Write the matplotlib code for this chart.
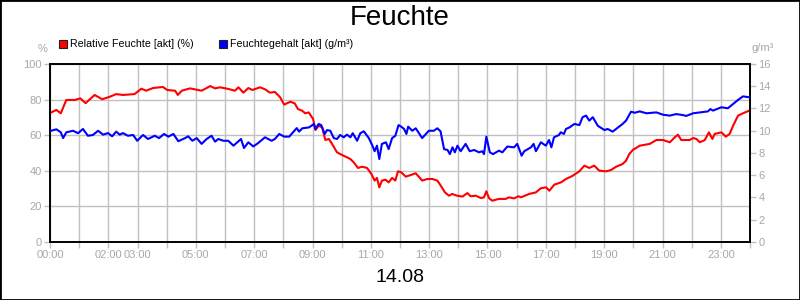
import matplotlib
matplotlib.use("Agg")
import matplotlib.pyplot as plt
from matplotlib.patches import Rectangle
import numpy as np

plt.rcParams['font.family'] = ['Liberation Sans', 'DejaVu Sans']

title = "Feuchte"
date_label = "14.08"
red_label = "Relative Feuchte [akt] (%)"
blue_label = "Feuchtegehalt [akt] (g/m³)"
left_unit = "%"
right_unit = "g/m³"

# Relative humidity (%) : time in hours, value
rh_hours = [0.04, 0.22, 0.37, 0.56, 0.85, 1.04, 1.22, 1.53, 1.79, 2.05,
            2.27, 2.50, 2.90, 3.13, 3.30, 3.53, 3.87, 4.02, 4.29, 4.38,
            4.52, 4.80, 5.20, 5.49, 5.66, 5.83, 6.11, 6.34, 6.46, 6.63,
            6.80, 6.94, 7.20, 7.37, 7.54, 7.71, 7.89, 8.03, 8.24, 8.39,
            8.50, 8.64, 8.75, 8.87, 9.02, 9.10, 9.21, 9.33, 9.44, 9.56,
            9.67, 9.84, 10.01, 10.18, 10.30, 10.41, 10.56, 10.70, 10.87, 11.02,
            11.13, 11.21, 11.29, 11.38, 11.50, 11.61, 11.73, 11.84, 11.93, 12.04,
            12.20, 12.54, 12.76, 12.94, 13.11, 13.28, 13.40, 13.54, 13.68, 13.79,
            13.96, 14.14, 14.31, 14.42, 14.60, 14.77, 14.88, 14.96, 15.05, 15.16,
            15.39, 15.62, 15.74, 15.91, 16.06, 16.15, 16.43, 16.66, 16.83, 17.01,
            17.12, 17.29, 17.52, 17.69, 17.92, 18.15, 18.32, 18.49, 18.66, 18.83,
            19.06, 19.23, 19.41, 19.63, 19.75, 19.86, 19.98, 20.22, 20.56, 20.79,
            21.02, 21.25, 21.42, 21.53, 21.64, 21.93, 22.05, 22.16, 22.28, 22.45,
            22.59, 22.71, 22.79, 23.02, 23.17, 23.30, 23.42, 23.59, 23.76, 23.97]
rh_values = [72.8, 74.2, 72.3, 79.8, 79.8, 80.7, 78.0, 82.6, 80.2, 81.6,
             83.1, 82.6, 83.1, 86.1, 85.0, 86.5, 87.1, 85.4, 85.0, 82.6,
             85.0, 86.3, 85.0, 87.6, 86.3, 86.9, 86.0, 85.0, 86.9, 83.9,
             86.5, 85.4, 86.9, 85.8, 83.9, 84.3, 81.3, 77.2, 78.8, 77.9,
             74.7, 73.8, 72.3, 72.8, 69.1, 62.9, 65.3, 64.4, 57.3, 57.9,
             55.1, 50.4, 48.9, 47.6, 46.6, 44.8, 41.6, 42.3, 41.6, 38.2,
             34.5, 36.0, 30.7, 34.5, 35.0, 33.5, 36.0, 34.5, 39.7, 39.2,
             36.7, 38.6, 34.5, 35.4, 35.4, 34.5, 31.6, 27.9, 26.0, 27.0,
             26.0, 25.5, 27.5, 25.7, 26.0, 24.7, 25.1, 28.5, 24.7, 23.2,
             24.2, 24.2, 25.1, 24.5, 25.7, 25.1, 27.0, 27.9, 30.2, 30.7,
             28.8, 32.2, 33.5, 35.4, 37.2, 39.7, 42.9, 41.6, 42.9, 40.1,
             39.7, 40.4, 42.3, 43.8, 45.7, 49.4, 51.7, 54.1, 55.1, 57.3,
             57.3, 56.0, 58.8, 60.3, 57.3, 57.3, 58.4, 57.9, 56.0, 57.3,
             61.6, 57.9, 60.7, 61.6, 59.2, 60.7, 65.3, 71.0, 72.3, 73.8]

# Absolute humidity (g/m3) : time in hours, value
ah_hours = [0.04, 0.22, 0.37, 0.45, 0.56, 0.79, 0.96, 1.13, 1.30, 1.47,
            1.65, 1.82, 1.99, 2.13, 2.27, 2.39, 2.50, 2.67, 2.85, 2.99,
            3.19, 3.36, 3.59, 3.74, 3.91, 4.06, 4.23, 4.40, 4.63, 4.74,
            4.88, 5.03, 5.20, 5.37, 5.54, 5.66, 5.77, 5.94, 6.11, 6.29,
            6.46, 6.55, 6.65, 6.80, 6.97, 7.14, 7.37, 7.60, 7.71, 7.86,
            8.03, 8.20, 8.46, 8.54, 8.65, 8.88, 9.05, 9.10, 9.21, 9.30,
            9.42, 9.50, 9.61, 9.73, 9.84, 9.95, 10.07, 10.18, 10.30, 10.38,
            10.53, 10.64, 10.76, 10.93, 11.04, 11.13, 11.21, 11.29, 11.38, 11.52,
            11.61, 11.73, 11.84, 11.95, 12.04, 12.14, 12.22, 12.28, 12.42, 12.54,
            12.76, 12.99, 13.16, 13.28, 13.39, 13.51, 13.63, 13.71, 13.80, 13.88,
            13.97, 14.08, 14.25, 14.39, 14.54, 14.71, 14.82, 14.88, 14.96, 15.08,
            15.19, 15.39, 15.51, 15.68, 15.91, 16.02, 16.17, 16.26, 16.49, 16.58,
            16.66, 16.83, 17.00, 17.11, 17.19, 17.28, 17.45, 17.51, 17.62, 17.69,
            17.81, 17.98, 18.15, 18.26, 18.38, 18.49, 18.61, 18.78, 19.01, 19.12,
            19.29, 19.41, 19.63, 19.75, 19.92, 20.05, 20.22, 20.45, 20.79, 21.02,
            21.25, 21.47, 21.70, 21.81, 22.05, 22.28, 22.56, 22.64, 22.73, 23.02,
            23.24, 23.42, 23.59, 23.76, 23.97]
ah_values = [10.00, 10.13, 9.86, 9.34, 9.86, 10.00, 9.78, 10.16, 9.55, 9.62,
             10.00, 9.65, 9.79, 9.50, 9.92, 9.65, 9.79, 9.55, 9.62, 9.10,
             9.62, 9.26, 9.55, 9.34, 9.71, 9.47, 9.71, 9.06, 9.34, 9.50,
             9.10, 9.34, 8.82, 9.26, 9.55, 9.02, 9.26, 9.10, 9.10, 8.66,
             9.06, 9.26, 8.45, 8.96, 8.59, 8.90, 9.41, 9.10, 9.26, 9.71,
             9.47, 9.47, 10.24, 9.92, 10.22, 10.30, 10.61, 10.16, 10.61, 10.51,
             9.71, 10.06, 10.00, 9.34, 9.26, 9.62, 9.41, 9.65, 9.41, 9.78,
             9.10, 9.78, 9.95, 9.34, 8.75, 8.16, 8.66, 7.46, 8.82, 8.96,
             8.35, 9.34, 9.55, 10.51, 10.37, 10.16, 9.71, 10.37, 10.00, 10.22,
             9.34, 10.00, 10.00, 10.22, 9.95, 8.35, 8.27, 7.90, 8.51, 8.06,
             8.66, 8.16, 8.82, 8.16, 8.27, 8.06, 8.16, 7.90, 9.47, 8.06,
             7.90, 8.21, 8.06, 8.58, 8.51, 8.82, 7.76, 8.16, 8.51, 8.82,
             8.16, 8.96, 8.66, 9.17, 8.51, 9.41, 9.62, 9.86, 9.71, 10.16,
             10.30, 10.61, 10.51, 11.22, 11.36, 10.91, 11.22, 10.45, 10.06, 10.16,
             9.92, 10.16, 10.61, 10.91, 11.71, 11.62, 11.74, 11.57, 11.65, 11.44,
             11.36, 11.50, 11.41, 11.33, 11.57, 11.65, 11.74, 11.95, 11.81, 12.11,
             12.02, 12.40, 12.77, 13.09, 13.01]

x_ticks = list(range(0, 25))
x_labeled = [0, 2, 3, 5, 7, 9, 11, 13, 15, 17, 19, 21, 23]
left_ticks = [0, 20, 40, 60, 80, 100]
right_ticks = [0, 2, 4, 6, 8, 10, 12, 14, 16]

grey_txt = '#a8a8a8'
grid_c = '#c0c0c0'

fig = plt.figure(figsize=(8, 3), dpi=100)
fig.patch.set_facecolor('white')
ax = fig.add_axes([50/800, 58/300, 700/800, 178/300])
ax2 = ax.twinx()

ax.plot(rh_hours, rh_values, color='#ff0000', lw=1.5, zorder=3)
ax2.plot(ah_hours, ah_values, color='#0000ff', lw=1.5, zorder=3)

ax.set_xlim(0, 24)
ax.set_ylim(0, 100)
ax2.set_ylim(0, 16)

ax.set_xticks(x_ticks)
ax.set_xticklabels([f"{h:02d}:00" if h in x_labeled else "" for h in x_ticks])
ax.set_yticks(left_ticks)
ax2.set_yticks(right_ticks)

ax.grid(True, color=grid_c, lw=1)
ax.set_axisbelow(True)

for a in (ax, ax2):
    a.tick_params(axis='both', colors=grid_c, labelcolor=grey_txt, labelsize=8,
                  length=4, width=1, pad=2)
    for s in a.spines.values():
        s.set_color('black')
        s.set_linewidth(1.2)

fig.text(400/800, 1 - 18/300, title, ha='center', va='center', fontsize=20, color='black')
fig.text(400/800, 1 - 277/300, date_label, ha='center', va='center', fontsize=14, color='black')
fig.text(43/800, 1 - 49/300, left_unit, ha='center', va='center', fontsize=8, color=grey_txt)
fig.text(763/800, 1 - 48/300, right_unit, ha='center', va='center', fontsize=8, color=grey_txt)

# legend
for (sx, col, lab) in [(58.5, '#ff0000', red_label), (218.5, '#0000ff', blue_label)]:
    fig.patches.append(Rectangle((sx/800, 1 - 48/300), 8/800, 8/300, transform=fig.transFigure,
                                 facecolor=col, edgecolor='#202020', lw=0.8))
    fig.text((sx + 11)/800, 1 - 44/300, lab, ha='left', va='center', fontsize=7.7, color='black')

fig.patches.append(Rectangle((0, 0), 1, 1, transform=fig.transFigure, fill=False,
                             edgecolor='black', lw=2))

fig.savefig('out.png', dpi=100)
